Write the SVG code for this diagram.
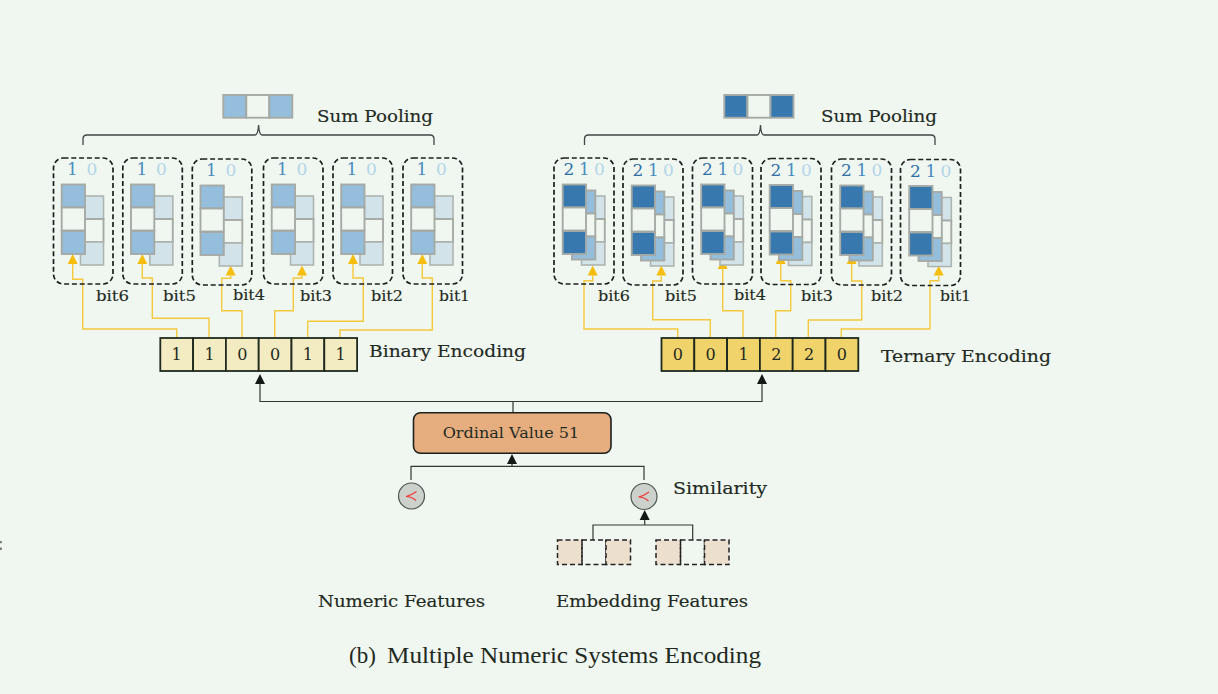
<svg xmlns="http://www.w3.org/2000/svg" xmlns:xlink="http://www.w3.org/1999/xlink" width="1218" height="694" viewBox="0 0 1218 694">
<style>
text{font-family:"DejaVu Serif","Liberation Serif",serif;fill:#1f2a22;font-size:15px}
.lbl{font-size:16px;stroke:#1f2a22;stroke-width:.15}
.bit{font-size:14px;stroke:#1f2a22;stroke-width:.15}
.cell{font-size:16px;text-anchor:middle}
.d{font-size:17px;text-anchor:middle}
.d2{fill:#2f6fa5}.d1{fill:#4a8cc0}.d0{fill:#b3d5e8}
.cap{font-family:"Liberation Serif",serif;font-size:23px}
.box{fill:none;stroke:#1c201e;stroke-width:1.7;stroke-dasharray:5 2.800}
.a{fill:#3779ae;stroke:#a5aaa6;stroke-width:1.900}
.b{fill:#94bedb;stroke:#a5aaa6;stroke-width:1.900}
.c{fill:#d2e4ea;stroke:#aeb4b0;stroke-width:1.600}
.w{fill:#f0f7f1;stroke:#a5aaa6;stroke-width:1.900}
.bc{fill:#f3ecc2;stroke:#1f2a1f;stroke-width:1.800}
.tc{fill:#f0d36a;stroke:#1f2a1f;stroke-width:1.800}
.y{fill:none;stroke:#f5c93c;stroke-width:1.4;marker-end:url(#ya)}
.k{fill:none;stroke:#2f3833;stroke-width:1.2}
.ka{marker-end:url(#ka)}
.br{fill:none;stroke:#3f4845;stroke-width:1.3}
.e{fill:#ecdfce;stroke:#222;stroke-width:1.500;stroke-dasharray:5 3}
.f{fill:none;stroke:#222;stroke-width:1.500;stroke-dasharray:5 3}
.ci{fill:#ccd1cc;stroke:#4f5652;stroke-width:1.200}
.r{fill:none;stroke:#f03535;stroke-width:1.100}
</style>
<defs>
<marker id="ya" markerUnits="userSpaceOnUse" markerWidth="11" markerHeight="12" refX="0" refY="6" orient="auto"><path d="M0 1L10 6L0 11z" fill="#f5bd10"/></marker>
<marker id="ka" markerUnits="userSpaceOnUse" markerWidth="11" markerHeight="12" refX="0" refY="6" orient="auto"><path d="M0 1L10 6L0 11z" fill="#111a14"/></marker>
<g id="col2">
<rect class="c" x="27" y="38" width="23" height="23"/><rect class="w" x="27" y="61" width="23" height="23"/><rect class="c" x="27" y="84" width="23" height="23"/>
<rect class="b" x="8.200" y="26.500" width="23.300" height="23"/><rect class="w" x="8.200" y="49.500" width="23.300" height="23"/><rect class="b" x="8.200" y="73" width="23.300" height="23"/>
</g>
<g id="col3">
<rect class="c" x="27.500" y="38" width="23.300" height="23"/><rect class="w" x="27.500" y="61" width="23.300" height="23"/><rect class="c" x="27.500" y="84" width="23.300" height="23"/>
<rect class="b" x="18" y="32.500" width="23.300" height="23"/><rect class="w" x="18" y="55.500" width="23.300" height="23"/><rect class="b" x="18" y="78.500" width="23.300" height="23"/>
<rect class="a" x="8.700" y="26.500" width="23.300" height="23"/><rect class="w" x="8.700" y="49.500" width="23.300" height="23"/><rect class="a" x="8.700" y="73" width="23.300" height="23"/>
</g>
</defs>
<rect width="1218" height="694" fill="#f0f7f1"/>
<path d="M0 541h1.800v2.200h-1.800zM0 547.500h1.800v2.500h-1.800z" fill="#777"/>

<g id="connectors">
<path class="y" d="M176.700 337V329H82.700V279.300H72.700V264"/>
<path class="y" d="M209 337V318.300H152.300V278H142.300V264"/>
<path class="y" d="M242 337V310.700H221.700V278.300H230.700V275.500"/>
<path class="y" d="M274.700 337V310.700H293.300V278H302V275.500"/>
<path class="y" d="M307.700 337V321.300H363.300V278H353V264"/>
<path class="y" d="M340 337V330H432.300V278H422.300V264"/>
<path class="y" d="M677.700 337V329H584V280.700H592.700V275.500"/>
<path class="y" d="M710.300 337V319.700H652.700V281H661.300V275.500"/>
<path class="y" d="M743 337V310.700H722.700V269"/>
<path class="y" d="M775.700 337V310.700H790.700V280.700H780.700V264"/>
<path class="y" d="M808.300 337V320H861.700V281H851.700V264"/>
<path class="y" d="M841.300 337V329H930V280.700H938.700V275.500"/>
<path class="k ka" d="M513 413V401.500H260V384"/>
<path class="k ka" d="M513 401.500H762V384"/>
<path class="k" d="M411 480V466.300H644V480"/>
<path class="k ka" d="M512 466.300V464"/>
<path class="k ka" d="M644.700 525V520"/>
<path class="k" d="M593 540V525H692.700V540"/>
<path class="br" d="M83 145V139Q83 135 87 135H255Q258 135 258.600 125Q259.200 135 262 135H430Q434 135 434 139V145"/>
<path class="br" d="M584.500 145V139Q584.500 135 588.500 135H757Q760 135 760.500 125Q761 135 764 135H931Q935 135 935 139V145"/>
</g>

<g id="sum-pool-binary">
<rect class="b" x="223.300" y="95" width="23" height="22.700"/><rect class="w" x="246.300" y="95" width="23" height="22.700"/><rect class="b" x="269.300" y="95" width="23" height="22.700"/>
<text class="lbl" x="317" y="122" textLength="116" lengthAdjust="spacingAndGlyphs">Sum Pooling</text>
</g>
<g id="sum-pool-ternary">
<rect class="a" x="724.300" y="95" width="23" height="22.700"/><rect class="w" x="747.500" y="95" width="23" height="22.700"/><rect class="a" x="770.500" y="95" width="23" height="22.700"/>
<text class="lbl" x="821" y="122" textLength="116" lengthAdjust="spacingAndGlyphs">Sum Pooling</text>
</g>

<g id="bin-bit6" transform="translate(53.500 158)"><rect class="box" width="59.500" height="126" rx="10"/><text class="d d1" x="19" y="17">1</text><text class="d d0" x="38.500" y="17">0</text><use href="#col2"/></g>
<g id="bin-bit5" transform="translate(122.800 158)"><rect class="box" width="59.500" height="126" rx="10"/><text class="d d1" x="19" y="17">1</text><text class="d d0" x="38.500" y="17">0</text><use href="#col2"/></g>
<g id="bin-bit4" transform="translate(192.300 159)"><rect class="box" width="59.500" height="126" rx="10"/><text class="d d1" x="19" y="17">1</text><text class="d d0" x="38.500" y="17">0</text><use href="#col2"/></g>
<g id="bin-bit3" transform="translate(263.500 158)"><rect class="box" width="59.500" height="126" rx="10"/><text class="d d1" x="19" y="17">1</text><text class="d d0" x="38.500" y="17">0</text><use href="#col2"/></g>
<g id="bin-bit2" transform="translate(333 158)"><rect class="box" width="59.500" height="126" rx="10"/><text class="d d1" x="19" y="17">1</text><text class="d d0" x="38.500" y="17">0</text><use href="#col2"/></g>
<g id="bin-bit1" transform="translate(403 158)"><rect class="box" width="59.500" height="126" rx="10"/><text class="d d1" x="19" y="17">1</text><text class="d d0" x="38.500" y="17">0</text><use href="#col2"/></g>

<g id="ter-bit6" transform="translate(554 158)"><rect class="box" width="60" height="126" rx="10"/><text class="d d2" x="15" y="17">2</text><text class="d d1" x="30.300" y="17">1</text><text class="d d0" x="45.500" y="17">0</text><use href="#col3"/></g>
<g id="ter-bit5" transform="translate(623 159)"><rect class="box" width="60" height="126" rx="10"/><text class="d d2" x="15" y="17">2</text><text class="d d1" x="30.300" y="17">1</text><text class="d d0" x="45.500" y="17">0</text><use href="#col3"/></g>
<g id="ter-bit4" transform="translate(692.500 158)"><rect class="box" width="60" height="126" rx="10"/><text class="d d2" x="15" y="17">2</text><text class="d d1" x="30.300" y="17">1</text><text class="d d0" x="45.500" y="17">0</text><use href="#col3"/></g>
<g id="ter-bit3" transform="translate(761 158.500)"><rect class="box" width="60" height="126" rx="10"/><text class="d d2" x="15" y="17">2</text><text class="d d1" x="30.300" y="17">1</text><text class="d d0" x="45.500" y="17">0</text><use href="#col3"/></g>
<g id="ter-bit2" transform="translate(831.500 159)"><rect class="box" width="60" height="126" rx="10"/><text class="d d2" x="15" y="17">2</text><text class="d d1" x="30.300" y="17">1</text><text class="d d0" x="45.500" y="17">0</text><use href="#col3"/></g>
<g id="ter-bit1" transform="translate(900.500 159.500)"><rect class="box" width="60" height="126" rx="10"/><text class="d d2" x="15" y="17">2</text><text class="d d1" x="30.300" y="17">1</text><text class="d d0" x="45.500" y="17">0</text><use href="#col3"/></g>

<g id="bit-labels">
<text class="bit" x="96" y="301" textLength="33" lengthAdjust="spacingAndGlyphs">bit6</text>
<text class="bit" x="163" y="301" textLength="33" lengthAdjust="spacingAndGlyphs">bit5</text>
<text class="bit" x="233" y="300" textLength="32" lengthAdjust="spacingAndGlyphs">bit4</text>
<text class="bit" x="300" y="301" textLength="32" lengthAdjust="spacingAndGlyphs">bit3</text>
<text class="bit" x="371" y="301" textLength="32" lengthAdjust="spacingAndGlyphs">bit2</text>
<text class="bit" x="439" y="301" textLength="31" lengthAdjust="spacingAndGlyphs">bit1</text>
<text class="bit" x="598" y="301" textLength="32" lengthAdjust="spacingAndGlyphs">bit6</text>
<text class="bit" x="665" y="301" textLength="32" lengthAdjust="spacingAndGlyphs">bit5</text>
<text class="bit" x="734" y="300" textLength="32" lengthAdjust="spacingAndGlyphs">bit4</text>
<text class="bit" x="801" y="301" textLength="32" lengthAdjust="spacingAndGlyphs">bit3</text>
<text class="bit" x="871" y="301" textLength="32" lengthAdjust="spacingAndGlyphs">bit2</text>
<text class="bit" x="940" y="301" textLength="31" lengthAdjust="spacingAndGlyphs">bit1</text>
</g>

<g id="binary-encoding">
<rect class="bc" x="160.300" y="338" width="32.800" height="33"/><rect class="bc" x="193.100" y="338" width="32.800" height="33"/><rect class="bc" x="225.900" y="338" width="32.800" height="33"/><rect class="bc" x="258.700" y="338" width="32.800" height="33"/><rect class="bc" x="291.500" y="338" width="32.800" height="33"/><rect class="bc" x="324.300" y="338" width="32.800" height="33"/>
<text class="cell" x="176.700" y="360">1</text><text class="cell" x="209.500" y="360">1</text><text class="cell" x="242.300" y="360">0</text><text class="cell" x="275.100" y="360">0</text><text class="cell" x="307.900" y="360">1</text><text class="cell" x="340.700" y="360">1</text>
<text class="lbl" x="369" y="357" textLength="157" lengthAdjust="spacingAndGlyphs">Binary Encoding</text>
</g>
<g id="ternary-encoding">
<rect class="tc" x="661.500" y="338" width="32.800" height="33"/><rect class="tc" x="694.300" y="338" width="32.800" height="33"/><rect class="tc" x="727.100" y="338" width="32.800" height="33"/><rect class="tc" x="759.900" y="338" width="32.800" height="33"/><rect class="tc" x="792.700" y="338" width="32.800" height="33"/><rect class="tc" x="825.500" y="338" width="32.800" height="33"/>
<text class="cell" x="677.900" y="360">0</text><text class="cell" x="710.700" y="360">0</text><text class="cell" x="743.500" y="360">1</text><text class="cell" x="776.300" y="360">2</text><text class="cell" x="809.100" y="360">2</text><text class="cell" x="841.900" y="360">0</text>
<text class="lbl" x="881" y="362" textLength="170" lengthAdjust="spacingAndGlyphs">Ternary Encoding</text>
</g>

<g id="ordinal-value">
<rect x="413.500" y="412.700" width="197.500" height="40.600" rx="7" fill="#e6ae7f" stroke="#1c201e" stroke-width="1.600"/>
<text x="442.700" y="438" font-size="14" textLength="136.500" lengthAdjust="spacingAndGlyphs">Ordinal Value 51</text>
</g>
<g id="similarity-numeric"><circle class="ci" cx="411.500" cy="496" r="13"/><path class="r" d="M416.500 491.500Q411 495.500 406 496.500Q411.500 496.500 416 500.500"/></g>
<g id="similarity-embedding"><circle class="ci" cx="644" cy="496.500" r="13"/><path class="r" d="M649 492Q643.500 496 638.500 497Q644 497 648.500 501"/>
<text class="lbl" x="673" y="494" textLength="94" lengthAdjust="spacingAndGlyphs">Similarity</text></g>
<g id="embedding-a"><rect class="e" x="557.500" y="540" width="24.500" height="24.500"/><rect class="f" x="582" y="540" width="24" height="24.500"/><rect class="e" x="606" y="540" width="24.500" height="24.500"/></g>
<g id="embedding-b"><rect class="e" x="656" y="540" width="24.500" height="24.500"/><rect class="f" x="680.500" y="540" width="24" height="24.500"/><rect class="e" x="704.500" y="540" width="24.500" height="24.500"/></g>
<g id="feature-labels">
<text class="lbl" x="318" y="606.500" textLength="167" lengthAdjust="spacingAndGlyphs">Numeric Features</text>
<text class="lbl" x="556" y="606.500" textLength="192" lengthAdjust="spacingAndGlyphs">Embedding Features</text>
</g>
<text class="cap" y="663"><tspan x="349">(b)</tspan><tspan x="387" textLength="374" lengthAdjust="spacingAndGlyphs">Multiple Numeric Systems Encoding</tspan></text>
</svg>
